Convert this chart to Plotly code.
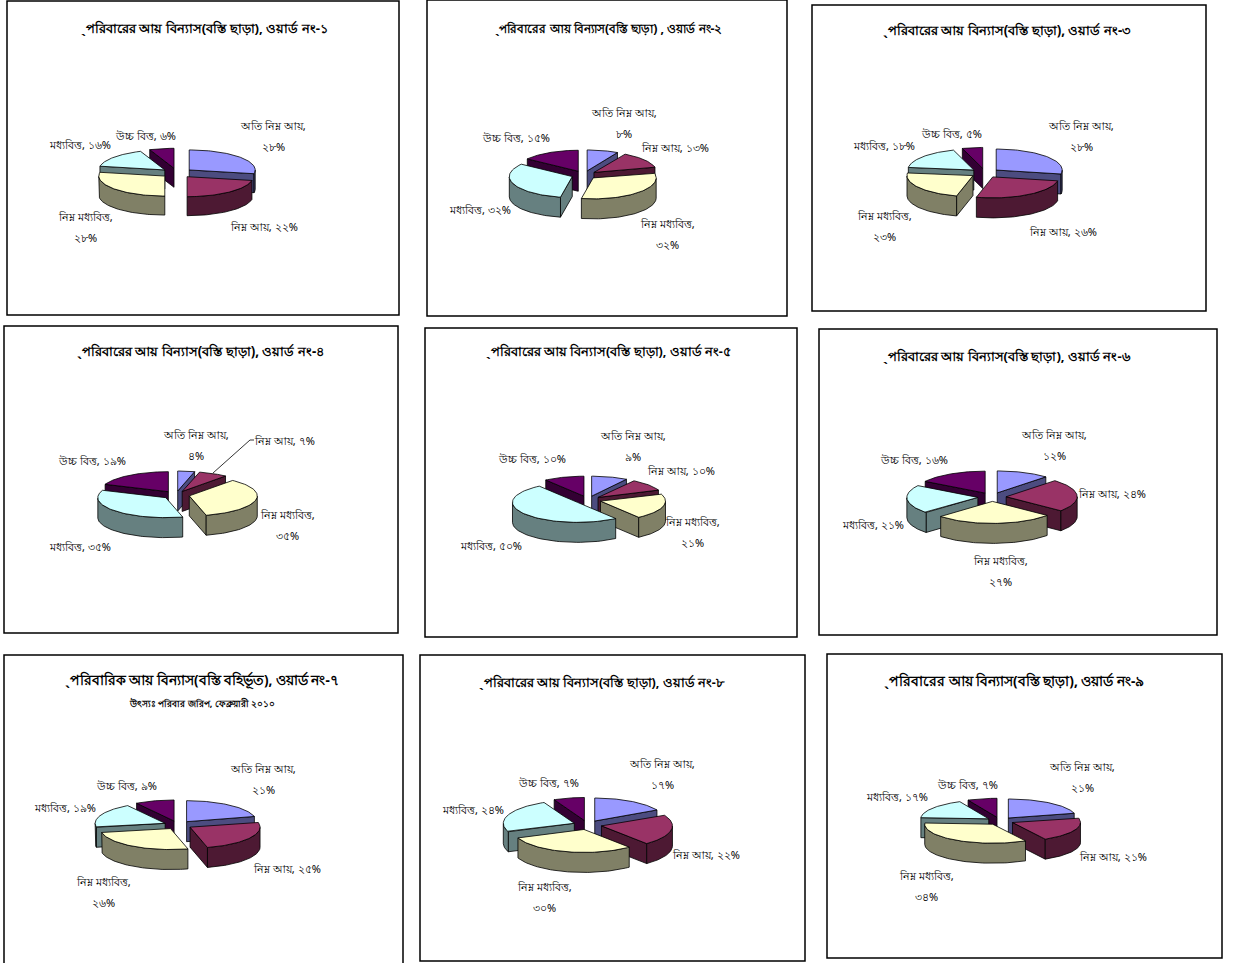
import numpy as np
import plotly.graph_objects as go

# ---------- data ----------
categories = ["অতি নিম্ন আয়", "নিম্ন আয়", "নিম্ন মধ্যবিত্ত", "মধ্যবিত্ত", "উচ্চ বিত্ত"]
ward_1 = [28, 22, 28, 16, 6]
ward_2 = [8, 13, 32, 32, 15]
ward_3 = [28, 26, 23, 18, 5]
ward_4 = [4, 7, 35, 35, 19]
ward_5 = [9, 10, 21, 50, 10]
ward_6 = [12, 24, 27, 21, 16]
ward_7 = [21, 25, 26, 19, 9]
ward_8 = [17, 22, 30, 24, 7]
ward_9 = [21, 21, 34, 17, 7]
titles = [
    "ˎপরিবারের আয় বিন্যাস(বস্তি ছাড়া), ওয়ার্ড নং-১",
    "ˎপরিবারের আয় বিন্যাস(বস্তি ছাড়া) , ওয়ার্ড নং-২",
    "ˎপরিবারের আয় বিন্যাস(বস্তি ছাড়া), ওয়ার্ড নং-৩",
    "ˎপরিবারের আয় বিন্যাস(বস্তি ছাড়া), ওয়ার্ড নং-৪",
    "ˎপরিবারের আয় বিন্যাস(বস্তি ছাড়া), ওয়ার্ড নং-৫",
    "ˎপরিবারের আয় বিন্যাস(বস্তি ছাড়া), ওয়ার্ড নং-৬",
    "ˎপরিবারিক আয় বিন্যাস(বস্তি বহির্ভূত), ওয়ার্ড নং-৭",
    "ˎপরিবারের আয় বিন্যাস(বস্তি ছাড়া), ওয়ার্ড নং-৮",
    "ˎপরিবারের আয় বিন্যাস(বস্তি ছাড়া), ওয়ার্ড নং-৯",
]
subtitle_7 = "উৎস্যঃ পরিবার জরিপ, ফেব্রুয়ারী ২০১০"
wards = [ward_1, ward_2, ward_3, ward_4, ward_5, ward_6, ward_7, ward_8, ward_9]

# ---------- layout & style ----------
W, H = 1238, 963
FONT = "Noto Sans, Noto Sans CJK SC, Liberation Sans, sans-serif"
top_colors = ["#9999FF", "#993366", "#FFFFCC", "#CCFFFF", "#660066"]
side_colors = ["#4C4C80", "#4D1933", "#808066", "#668080", "#330033"]

panels = [  # left, right, top, bottom
    (7, 399, 1, 315), (427, 787, 0, 316), (812, 1206, 5, 311),
    (4, 398, 326, 633), (425, 797, 328, 637), (819, 1217, 329, 635),
    (4, 403, 655, 970), (420, 805, 655, 961), (827, 1222, 654, 958),
]
title_style = [  # centre x, centre y, font size
    (204, 28, 13.2), (608, 28, 12.3), (1007, 30, 13.3),
    (200, 351, 13.3), (608, 351, 12.5), (1007, 356, 13.1),
    (202, 680, 13.5), (602, 682, 12.5), (1014, 680, 13.7),
]
pies = [  # cx, cy, rx, ry, depth, pull
    (177, 173, 66, 20, 19, .24), (584, 175, 63, 21, 20, .20), (985, 173, 66, 21, 20, .22),
    (176, 495, 68, 20, 20, .20), (588, 500, 65, 20, 20, .20), (992, 497, 71, 22, 20, .20),
    (178, 825, 70, 21, 20, .20), (587.5, 825, 71, 23, 20, .20), (1000, 821, 68, 19, 20, .20),
]
label_pos = [  # centre of each label: x, y, wrapped
    [(273, 136, 1), (264, 227, 0), (85, 227, 1), (80, 145, 0), (145, 136, 0)],
    [(624, 123, 1), (675, 147, 0), (667, 234, 1), (480, 209, 0), (516, 137, 0)],
    [(1081, 136, 1), (1063, 231, 0), (884, 226, 1), (884, 145, 0), (951, 133, 0)],
    [(196, 445, 1), (284, 441, 0), (287, 525, 1), (80, 546, 0), (92, 461, 0)],
    [(633, 446, 1), (681, 470, 0), (692, 532, 1), (491, 545, 0), (532, 458, 0)],
    [(1054, 445, 1), (1112, 493, 0), (1001, 571, 1), (873, 524, 0), (914, 459, 0)],
    [(263, 779, 1), (287, 868, 0), (103, 892, 1), (65, 807, 0), (126, 785, 0)],
    [(662, 774, 1), (706, 854, 0), (544, 897, 1), (473, 809, 0), (548, 782, 0)],
    [(1082, 777, 1), (1113, 856, 0), (926, 886, 1), (897, 796, 0), (967, 784, 0)],
]
BN = str.maketrans("0123456789", "০১২৩৪৫৬৭৮৯")
LINE_GAP = 21


def poly(xs, ys, color, ax, ay):
    return go.Scatter(x=xs, y=ys, xaxis=ax, yaxis=ay, mode="lines", fill="toself", fillcolor=color,
                      line=dict(color="#000000", width=0.8), hoverinfo="skip", showlegend=False)


fig = go.Figure()
annotations, shapes, layout_axes = [], [], {}


def add_text(x, y, text, ax, ay, size):
    annotations.append(dict(x=x, y=y, xref=ax, yref=ay, text=text, showarrow=False,
                            font=dict(size=size, color="#000000", family=FONT), align="center"))


for i, (vals, panel, pie, labels) in enumerate(zip(wards, panels, pies, label_pos)):
    n = i + 1
    suffix = "" if n == 1 else str(n)
    ax, ay = f"x{suffix}", f"y{suffix}"
    left, right, top, bottom = panel
    cx, cy, rx, ry, depth, pull = pie
    b = min(bottom, H)
    layout_axes[f"xaxis{suffix}"] = dict(domain=[left / W, right / W], range=[left, right], visible=False,
                                         anchor=ay, fixedrange=True)
    layout_axes[f"yaxis{suffix}"] = dict(domain=[1 - b / H, 1 - top / H], range=[b, top], visible=False,
                                         anchor=ax, fixedrange=True)
    shapes.append(dict(type="rect", xref="paper", yref="paper", x0=left / W, x1=right / W,
                       y0=1 - bottom / H, y1=1 - top / H, line=dict(color="#000000", width=1.5), layer="below"))

    edges = np.cumsum([0] + list(vals)) / sum(vals) * 2 * np.pi
    order = sorted(range(len(vals)), key=lambda k: -np.cos((edges[k] + edges[k + 1]) / 2))
    for k in order:
        a0, a1 = edges[k], edges[k + 1]
        mid = (a0 + a1) / 2
        ox = cx + pull * rx * np.sin(mid)
        oy = cy - pull * ry * np.cos(mid)
        t = np.linspace(a0, a1, 60)
        ex, ey = ox + rx * np.sin(t), oy - ry * np.cos(t)
        # cut faces
        for ang, visible in ((a0, np.sin(a0) < -1e-9), (a1, np.sin(a1) > 1e-9)):
            if visible:
                px, py = ox + rx * np.sin(ang), oy - ry * np.cos(ang)
                fig.add_trace(poly([ox, px, px, ox, ox], [oy, py, py + depth, oy + depth, oy],
                                   side_colors[k], ax, ay))
        # outer wall
        front = t[np.cos(t) < 0]
        if len(front) > 1:
            fx, fy = ox + rx * np.sin(front), oy - ry * np.cos(front)
            fig.add_trace(poly(np.r_[fx, fx[::-1], fx[0]], np.r_[fy, fy[::-1] + depth, fy[0]],
                               side_colors[k], ax, ay))
        # top face
        fig.add_trace(poly(np.r_[ox, ex, ox], np.r_[oy, ey, oy], top_colors[k], ax, ay))

    # labels
    for k, (lx, ly, wrapped) in enumerate(labels):
        pct = str(vals[k]).translate(BN) + "%"
        if wrapped:
            add_text(lx, ly - LINE_GAP / 2, categories[k] + ",", ax, ay, 11)
            add_text(lx, ly + LINE_GAP / 2, pct, ax, ay, 11)
        else:
            add_text(lx, ly, categories[k] + ", " + pct, ax, ay, 11)
    tx, ty, tsize = title_style[i]
    add_text(tx, ty, "<b>" + titles[i] + "</b>", ax, ay, tsize)
    if n == 4:
        fig.add_trace(go.Scatter(x=[213, 250, 254], y=[473, 440, 440], xaxis=ax, yaxis=ay, mode="lines",
                                 line=dict(color="#000000", width=0.8), hoverinfo="skip", showlegend=False))
    if n == 7:
        add_text(202, 703, "<b>" + subtitle_7 + "</b>", ax, ay, 9.3)

fig.update_layout(width=W, height=H, margin=dict(l=0, r=0, t=0, b=0), paper_bgcolor="#FFFFFF",
                  plot_bgcolor="rgba(0,0,0,0)", showlegend=False, annotations=annotations, shapes=shapes,
                  **layout_axes)
fig.write_html("out.html", config={"displayModeBar": False}, post_script="document.body.style.margin='0';")
